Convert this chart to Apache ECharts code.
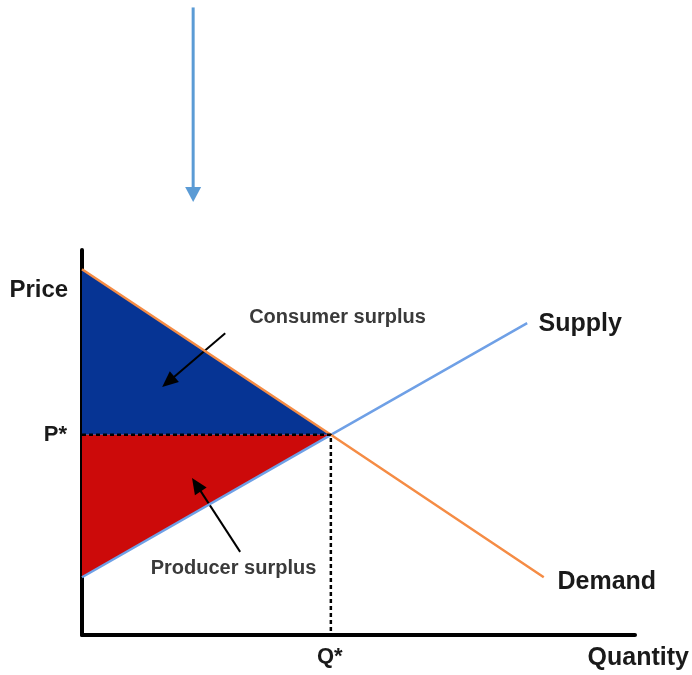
<!DOCTYPE html>
<html><head><meta charset="utf-8">
<script src="https://cdn.jsdelivr.net/npm/echarts@6/dist/echarts.min.js"></script>
<style>html,body{margin:0;padding:0;background:#fff}#c{width:692px;height:675px}</style>
</head><body><div id="c"></div>
<script>
// equilibrium
const Qstar = 45, Pstar = 52;
// demand curve (quantity, price)
const demandQ = [0, 45, 83.5];
const demandP = [95, 52, 15];
// supply curve
const supplyQ = [0, 45, 80.5];
const supplyP = [15, 52, 81];
// annotation arrows [from, to] in data units
const topArrow = [[20.1, 163], [20.1, 112.5]];
const consumerArrow = [[25.9, 78.4], [14.5, 64.4]];
const producerArrow = [[28.6, 21.6], [19.9, 40.8]];
// text labels
const labelTexts = ['Price', 'P*', 'Q*', 'Quantity', 'Supply', 'Demand', 'Consumer surplus', 'Producer surplus'];
const labelPos = [[-7.8, 89.4], [-4.8, 51.9], [44.8, -5.7], [100.6, -5.9], [90.1, 80.7], [94.9, 13.8], [46.2, 82.4], [27.4, 17.3]];
const labelSize = [24, 22, 22, 25, 25, 25, 20, 20];

const demand = demandQ.map((q, i) => [q, demandP[i]]);
const supply = supplyQ.map((q, i) => [q, supplyP[i]]);
const consumerSurplus = [[0, demandP[0]], [Qstar, Pstar], [0, Pstar]];
const producerSurplus = [[0, Pstar], [Qstar, Pstar], [0, supplyP[0]]];

function polySeries(pts, color) {
  return {
    type: 'custom', data: [[0, 0]], clip: false, silent: true,
    renderItem: (p, api) => ({
      type: 'polygon',
      shape: { points: pts.map(d => api.coord(d)) },
      style: { fill: color, stroke: null }
    })
  };
}
function arrowSeries(arr, color, width, headL, headW) {
  return {
    type: 'custom', data: [[0, 0]], clip: false, silent: true,
    renderItem: (p, api) => {
      const a = api.coord(arr[0]), b = api.coord(arr[1]);
      const dx = b[0] - a[0], dy = b[1] - a[1];
      const len = Math.sqrt(dx * dx + dy * dy);
      const ux = dx / len, uy = dy / len;
      const bx = b[0] - ux * headL, by = b[1] - uy * headL;
      return {
        type: 'group', children: [
          { type: 'line', shape: { x1: a[0], y1: a[1], x2: bx + ux * 2, y2: by + uy * 2 }, style: { stroke: color, lineWidth: width } },
          { type: 'polygon', shape: { points: [b, [bx - uy * headW, by + ux * headW], [bx + uy * headW, by - ux * headW]] }, style: { fill: color } }
        ]
      };
    }
  };
}

const chart = echarts.init(document.getElementById('c'), null, { renderer: 'canvas' });
chart.setOption({
  animation: false,
  backgroundColor: '#ffffff',
  grid: { left: 82, top: 250, width: 553, height: 385 },
  xAxis: {
    type: 'value', min: 0, max: 100,
    axisLine: { show: true, lineStyle: { color: '#000', width: 4 } },
    axisTick: { show: false }, axisLabel: { show: false }, splitLine: { show: false }
  },
  yAxis: {
    type: 'value', min: 0, max: 100,
    axisLine: { show: true, lineStyle: { color: '#000', width: 4 } },
    axisTick: { show: false }, axisLabel: { show: false }, splitLine: { show: false }
  },
  series: [
    polySeries(consumerSurplus, '#063494'),
    polySeries(producerSurplus, '#cc0a0a'),
    { type: 'line', data: supply, symbol: 'none', lineStyle: { color: '#6fa0e6', width: 2.5 }, silent: true },
    { type: 'line', data: demand, symbol: 'none', lineStyle: { color: '#f58c45', width: 2.5 }, silent: true },
    { type: 'line', data: [[0, Pstar], [Qstar, Pstar], [Qstar, 0]], symbol: 'none',
      lineStyle: { color: '#000', width: 2.5, type: [4, 3] }, silent: true },
    arrowSeries(topArrow, '#5b9bd5', 3, 15, 8),
    arrowSeries(consumerArrow, '#000', 2, 16, 7),
    arrowSeries(producerArrow, '#000', 2, 16, 7),
    {
      type: 'custom', data: labelTexts.map((t, i) => [labelPos[i][0], labelPos[i][1], i]), clip: false, silent: true,
      renderItem: (p, api) => {
        const i = api.value(2);
        const c = api.coord([api.value(0), api.value(1)]);
        const small = labelSize[i] < 21;
        return {
          type: 'text', x: c[0], y: c[1],
          style: {
            text: labelTexts[i], fill: small ? '#3a3a3a' : '#1a1a1a',
            font: 'bold ' + labelSize[i] + 'px "Liberation Sans", Arial, sans-serif',
            align: 'center', verticalAlign: 'middle'
          }
        };
      }
    }
  ]
});
</script>
</body></html>
